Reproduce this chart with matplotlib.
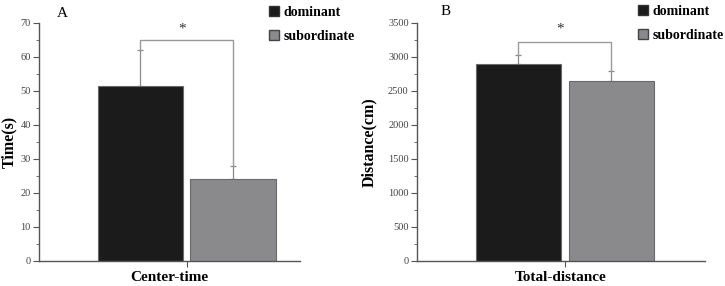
import matplotlib
matplotlib.use("Agg")
import matplotlib.pyplot as plt
from matplotlib.patches import Patch
from matplotlib.ticker import MultipleLocator

groups = ["dominant", "subordinate"]
center_time = [51.5, 24.2]
center_time_err = [10.7, 3.8]
total_distance = [2900, 2640]
total_distance_err = [130, 160]

bar_colors = ["#1b1b1b", "#8a8a8c"]
serif = ["Liberation Serif", "DejaVu Serif"]
plt.rcParams["font.family"] = serif

fig = plt.figure(figsize=(7.25, 2.86), dpi=100)

def panel(rect, vals, errs, ylim, major, ylabel, xlabel, letter, bracket_y, star_y, xlim, width,
          leg_anchor, ylabelpad):
    ax = fig.add_axes(rect)
    x = [0, 1]
    ax.bar(x, vals, width=width, color=bar_colors, edgecolor="#6a6a6a", linewidth=0.8, zorder=2)
    ax.errorbar(x, vals, yerr=[[0, 0], errs], fmt="none", ecolor="#8a8a8a", elinewidth=0.9,
                capsize=2.5, capthick=0.9, zorder=1)
    ax.set_xlim(*xlim)
    ax.set_ylim(*ylim)
    ax.yaxis.set_major_locator(MultipleLocator(major))
    ax.yaxis.set_minor_locator(MultipleLocator(major / 2))
    ax.set_xticks([0.5])
    ax.set_xticklabels([""])
    for s in ["top", "right"]:
        ax.spines[s].set_visible(False)
    for s in ["left", "bottom"]:
        ax.spines[s].set_color("#555555")
        ax.spines[s].set_linewidth(1.0)
    ax.tick_params(axis="y", which="major", length=4, color="#555555", labelsize=7.5,
                   labelcolor="#444444", pad=2)
    ax.tick_params(axis="y", which="minor", length=2.5, color="#555555")
    ax.tick_params(axis="x", length=4, color="#555555", pad=0)
    ax.set_ylabel(ylabel, fontsize=11.5, fontweight="bold", labelpad=ylabelpad)
    ax.set_xlabel(xlabel, fontsize=11, fontweight="bold", labelpad=3)
    # significance bracket
    tops = [v + e for v, e in zip(vals, errs)]
    ax.plot([0, 0, 1, 1], [tops[0], bracket_y, bracket_y, tops[1]], color="#9a9a9a", lw=1.0,
            clip_on=False, zorder=1)
    ax.text(0.45, star_y, "*", ha="center", va="center", fontsize=11, color="#333333")
    ax.text(letter[1], letter[2], letter[0], transform=ax.transAxes, fontsize=11, ha="left", va="center")
    handles = [Patch(facecolor=bar_colors[0], edgecolor="#333333"),
               Patch(facecolor=bar_colors[1], edgecolor="#444444")]
    ax.legend(handles, groups, loc="upper left", bbox_to_anchor=leg_anchor,
              bbox_transform=fig.transFigure, frameon=False, handlelength=0.75,
              handleheight=0.75, handletextpad=0.3, labelspacing=0.8,
              prop={"family": serif, "weight": "bold", "size": 10}, borderaxespad=0)
    return ax

panel([39 / 725, 25 / 286, 261 / 725, 238 / 286], center_time, center_time_err, (0, 70), 10,
      "Time(s)", "Center-time", ("A", 0.07, 1.04), 65, 68.3, (-1.097, 1.724), 0.92,
      (263 / 725, 1.0), 2)
panel([417 / 725, 25 / 286, 288 / 725, 238 / 286], total_distance, total_distance_err, (0, 3500), 500,
      "Distance(cm)", "Total-distance", ("B", 0.08, 1.05), 3220, 3410, (-1.09, 2.005), 0.914,
      (632 / 725, 1.0 + 1 / 286), 8)

fig.savefig("out.png", dpi=100)
